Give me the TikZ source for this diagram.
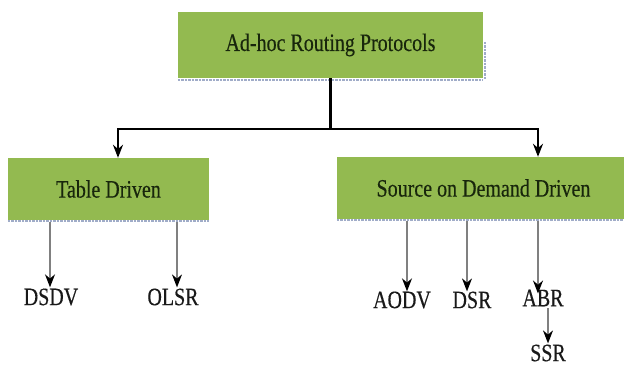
\documentclass[tikz,border=0pt]{standalone}
\usepackage{fontspec}
\setmainfont[FakeStretch=0.8,FakeBold=0.35]{Liberation Serif}
\usetikzlibrary{arrows.meta,calc}
\definecolor{boxgreen}{RGB}{147,186,80}
\definecolor{boxtext}{RGB}{24,38,12}
\definecolor{shade}{RGB}{160,172,200}
\tikzset{
  x=1pt, y=-1pt,
  catbox/.style={fill=boxgreen, draw=none, inner sep=0pt, text=boxtext,
    font=\fontsize{25}{27}\selectfont},
  leaf/.style={inner sep=0pt, text=black!90, font=\fontsize{25}{27}\selectfont},
  mainarr/.style={line width=2.2pt, -{Stealth[length=13pt,width=10pt]}},
  mainline/.style={line width=2.2pt},
  leafarr/.style={line width=1.4pt, draw=black!50, -{Stealth[length=13pt,width=10pt,color=black]}},
  boxshade/.style={draw=shade, line width=2pt, dash pattern=on 2.5pt off 1pt}
}
\begin{document}
\begin{tikzpicture}
\useasboundingbox (0,0) rectangle (624,372);
\fill[white] (0,0) rectangle (624,372);

% category boxes
\node[catbox, minimum width=305pt, minimum height=66pt] (top) at (330.5,45) {Ad-hoc Routing Protocols};
\node[catbox, minimum width=201pt, minimum height=62pt] (tbl) at (108.5,189) {Table Driven};
\node[catbox, minimum width=293pt, minimum height=62pt] (src) at (483.5,188) {Source on Demand Driven};

% soft bottom/right edges of the boxes
\draw[boxshade] ([yshift=-1.5pt]top.south west) -- ([yshift=-1.5pt]top.south east);
\draw[boxshade] ([xshift=1.5pt,yshift=-30pt]top.north east) -- ([xshift=1.5pt,yshift=-1.5pt]top.south east);
\draw[boxshade] ([yshift=-1pt]tbl.south west) -- ([yshift=-1pt]tbl.south east);
\draw[boxshade] ([yshift=-1pt]src.south west) -- ([yshift=-1pt]src.south east);

% protocol names
\node[leaf] (dsdv) at (51,297) {DSDV};
\node[leaf] (olsr) at (173,297) {OLSR};
\node[leaf] (aodv) at (402,300) {AODV};
\node[leaf] (dsr)  at (472,300) {DSR};
\node[leaf] (abr)  at (543,298) {ABR};
\node[leaf] (ssr)  at (548,353) {SSR};

% trunk from the root box
\coordinate (j) at (330.5,129);
\draw[mainline] (top.south) -- (j);
\draw[mainarr] (j) -| ($(tbl.north)+(9.5,0)$);
\draw[mainarr] (j) -| ($(src.north)+(54.5,0)$);

% branches to the protocols
\draw[leafarr] ($(tbl.south)+(-58.5,2)$) -- ($(dsdv.north)+(-1,-1)$);
\draw[leafarr] ($(tbl.south)+(68.5,2)$) -- ($(olsr.north)+(4,-1)$);
\draw[leafarr] ($(src.south)+(-76.5,2)$) -- ($(aodv.north)+(5,0)$);
\draw[leafarr] ($(src.south)+(-16.5,2)$) -- ($(dsr.north)+(-5,0)$);
\draw[leafarr] ($(src.south)+(54.5,2)$) -- ($(abr.north)+(-5,4)$);
\draw[leafarr] ($(abr.south)+(5,2)$) -- ($(ssr.north)+(0,-1)$);
\end{tikzpicture}
\end{document}
